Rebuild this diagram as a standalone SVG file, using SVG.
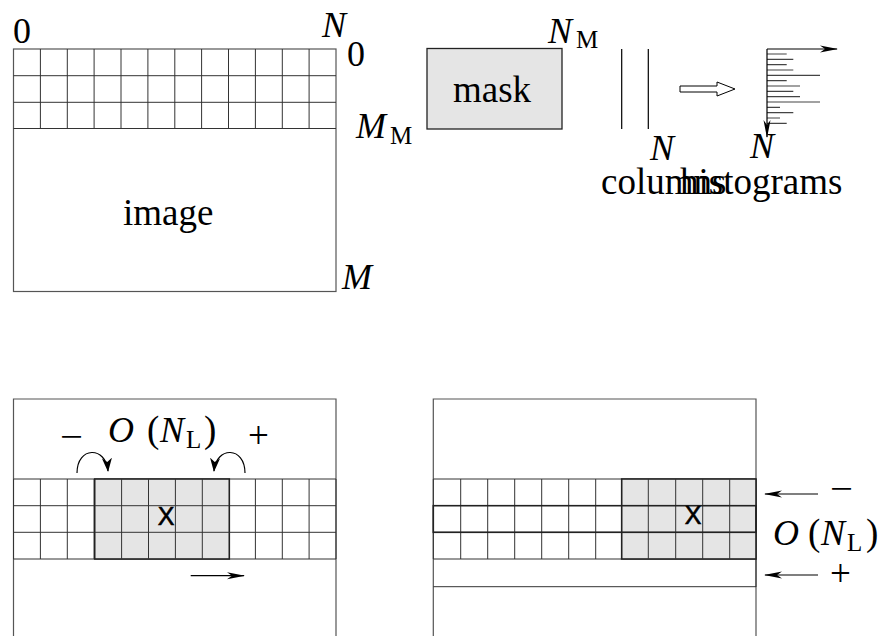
<svg xmlns="http://www.w3.org/2000/svg" width="886" height="636" viewBox="0 0 886 636">
<defs>
<style>
.g{fill:none;stroke:#333;stroke-width:1}
.box{fill:none;stroke:#555;stroke-width:1.2}
.sh{fill:#e5e5e5;stroke:#222;stroke-width:1.6}
.t{font-family:"Liberation Serif","Times New Roman",serif;font-size:37px;fill:#000}
.m{font-family:"Liberation Serif","Times New Roman",serif;font-size:36px;font-style:italic;fill:#000}
.s{font-family:"Liberation Serif","Times New Roman",serif;font-size:25px;fill:#000}
.d{font-family:"Liberation Serif","Times New Roman",serif;font-size:36px;fill:#000}
.x{font-family:"Liberation Sans",Arial,sans-serif;font-size:25px;fill:#000;stroke:#000;stroke-width:0.6;text-anchor:middle}
.c{fill:none;stroke:#000;stroke-width:1.2}
.bar{stroke:#444;stroke-width:1.2}
</style>
<marker id="ah" markerWidth="18" markerHeight="10" refX="17" refY="5" orient="auto" markerUnits="userSpaceOnUse"><path d="M0,1.5 L18,5 L0,8.5 L5,5 z" fill="#000"/></marker>
<marker id="ahc" markerWidth="14" markerHeight="12" refX="13" refY="6" orient="auto" markerUnits="userSpaceOnUse"><path d="M0,1 L14,6 L0,11 L4,6 z" fill="#000"/></marker>
</defs>

<g id="image-top">
<rect class="box" x="13.5" y="49" width="322.5" height="242.5"/>
<path class="g" d="M13.5,75.7H336M13.5,102.3H336M13.5,128.5H336M40.4,49V128.5M67.3,49V128.5M94.1,49V128.5M121,49V128.5M147.9,49V128.5M174.8,49V128.5M201.6,49V128.5M228.5,49V128.5M255.4,49V128.5M282.3,49V128.5M309.1,49V128.5"/>
<text class="d" x="13" y="43">0</text>
<text class="m" x="322" y="37">N</text>
<text class="d" x="347" y="66">0</text>
<text class="m" x="356" y="138">M</text><text class="s" x="390" y="144">M</text>
<text class="t" x="123" y="225">image</text>
<text class="m" x="342" y="289">M</text>
</g>

<g id="mask">
<rect x="427" y="48.5" width="135" height="80.5" fill="#e5e5e5" stroke="#222" stroke-width="1.3"/>
<text class="t" x="453" y="102">mask</text>
<text class="m" x="548" y="43">N</text><text class="s" x="576" y="48">M</text>
</g>

<g id="columns">
<path class="c" d="M621.7,49V129M648.3,49V129" stroke-width="1"/>
<text class="m" x="650" y="160">N</text>
<text class="t" x="601" y="194">columns</text>
</g>

<g id="histogram">
<path class="bar" d="M767,54H786.7M767,59.3H793.3M767,64.7H786.7M767,70H793.3M767,75.3H820M767,80.7H786.7M767,86H800M767,91.3H793.3M767,96.7H800M767,102H820M767,107.3H780M767,112.7H793.3M767,118H780M767,123.3H786.7"/>
<text class="m" x="750" y="158">N</text>
<text class="t" x="680" y="194">histograms</text>
</g>

<g id="window-left">
<path class="box" d="M13.5,636V399H336V636"/>
<path class="g" d="M13.5,479H336M13.5,505.7H336M13.5,532.3H336M13.5,559H336M13.5,479V559M40.4,479V559M67.3,479V559M94.1,479V559M228.5,479V559M255.4,479V559M282.3,479V559M309.1,479V559M336,479V559"/>
<rect class="sh" x="94.7" y="479" width="134.6" height="80"/>
<path class="g" d="M94.7,505.7H229.3M94.7,532.3H229.3M121.6,479V559M148.5,479V559M175.4,479V559M202.3,479V559"/>
<text class="x" x="166" y="525">X</text>
<text class="m" x="108" y="442">O</text>
<text class="t" x="147" y="442" font-size="36">(</text>
<text class="m" x="160" y="442">N</text><text class="s" x="186" y="448">L</text>
<text class="t" x="204" y="442" font-size="36">)</text>
<text class="t" x="60" y="449" font-size="41" textLength="23" lengthAdjust="spacingAndGlyphs">−</text>
<text class="t" x="248" y="448" font-size="38">+</text>
</g>

<g id="window-right">
<path class="box" d="M433.3,636V399H756V636"/>
<path class="g" d="M433.3,479H756M433.3,532.3H756M433.3,559H756M433.3,586.7H756M433.3,479V559M460.7,479V559M487.7,479V559M514.7,479V559M541.7,479V559M568.7,479V559M595.7,479V559M756,479V587"/>
<rect class="sh" x="621.7" y="479" width="134.3" height="80"/>
<path class="g" d="M621.7,532.3H756M648.3,479V559M675.7,479V559M702.7,479V559M729.7,479V559"/>
<rect x="433.3" y="505.7" width="322.7" height="26.6" fill="none" stroke="#222" stroke-width="1.6"/>
<text class="x" x="693" y="524">X</text>
<text class="t" x="830" y="501" font-size="41" textLength="23" lengthAdjust="spacingAndGlyphs">−</text>
<text class="t" x="830" y="586" font-size="38">+</text>
<text class="m" x="773" y="545">O</text>
<text class="t" x="808" y="545" font-size="36">(</text>
<text class="m" x="821" y="545">N</text><text class="s" x="847" y="551">L</text>
<text class="t" x="866" y="545" font-size="36">)</text>
</g>

<g id="connectors">
<path d="M680,86H717V82L735,89L717,96V92H680Z" fill="#fff" stroke="#000" stroke-width="1"/>
<path class="c" d="M767,49H837" marker-end="url(#ah)"/>
<path class="c" d="M767,49V137" marker-end="url(#ah)"/>
<path class="c" d="M77,473C77,446 106,446 108,471" marker-end="url(#ahc)"/>
<path class="c" d="M245,473C245,446 216,446 214,471" marker-end="url(#ahc)"/>
<path class="c" d="M190.7,575.7H244" marker-end="url(#ah)"/>
<path class="c" d="M818,494H765" marker-end="url(#ah)"/>
<path class="c" d="M818,575H765" marker-end="url(#ah)"/>
</g>
</svg>
